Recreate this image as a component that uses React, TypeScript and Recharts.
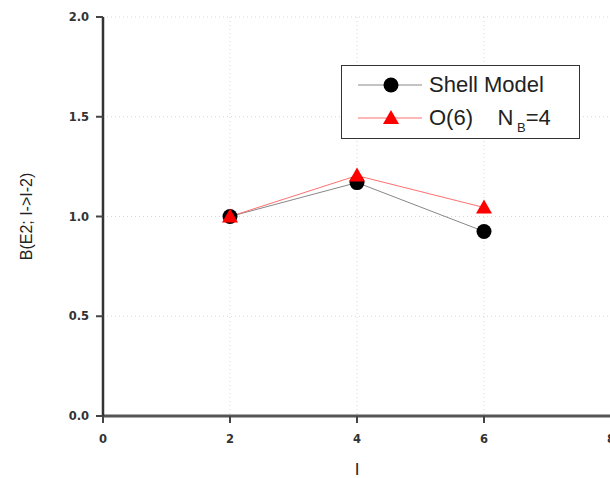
import { LineChart, Line, XAxis, YAxis, CartesianGrid } from 'recharts';

// spin values I of the yrast states
const levels = [2, 4, 6];
// normalised B(E2; I -> I-2)
const shellModel = [1.0, 1.17, 0.925];
const o6Model = [1.0, 1.205, 1.045];

const xTicks = [0, 2, 4, 6, 8];
const yTicks = [0, 0.5, 1.0, 1.5, 2.0];

const chartData = levels.map((l, i) => ({
    I: l,
    shell: shellModel[i],
    o6: o6Model[i]
}));

const tickFont = { fontSize: 11.5, fontWeight: 700, fill: '#333', fontFamily: 'DejaVu Sans' };
const labelFont = 'Liberation Sans, Arial, sans-serif';

const Circle = (props: any) => {
    const { cx, cy } = props;
    if (cx == null || cy == null) return null;
    return <circle cx={cx} cy={cy} r={7.5} fill="#000" />;
};

const Triangle = (props: any) => {
    const { cx, cy } = props;
    if (cx == null || cy == null) return null;
    const s = 8;
    return <polygon points={`${cx},${cy - s} ${cx - s},${cy + s * 0.75} ${cx + s},${cy + s * 0.75}`} fill="#ff0000" />;
};

const LegendBox = () => (
    <div
        style={{
            position: 'absolute',
            left: 341,
            top: 65,
            width: 239,
            height: 74,
            boxSizing: 'border-box',
            border: '1.5px solid #333',
            background: '#fff',
            fontFamily: labelFont,
            fontSize: 22,
            color: '#222'
        }}
    >
        <svg width={239} height={74} style={{ position: 'absolute', left: -1.5, top: -1.5 }}>
            <line x1={17} x2={81} y1={20} y2={20} stroke="#888" strokeWidth={1} />
            <circle cx={50} cy={20} r={7.5} fill="#000" />
            <line x1={17} x2={81} y1={53} y2={53} stroke="#ff7070" strokeWidth={1} />
            <polygon points="50,45 42,59 58,59" fill="#ff0000" />
        </svg>
        <div style={{ position: 'absolute', left: 87, top: 6, lineHeight: '26px' }}>Shell Model</div>
        <div style={{ position: 'absolute', left: 87, top: 39, lineHeight: '26px', whiteSpace: 'pre' }}>
            O(6)    N<sub style={{ fontSize: 13, verticalAlign: -7 }}> B</sub>=4
        </div>
    </div>
);

const YTitle = (props: any) => {
    const vb = props.viewBox;
    const cx = 26;
    const cy = vb.y + vb.height / 2;
    return (
        <text
            x={cx}
            y={cy}
            transform={`rotate(-90, ${cx}, ${cy})`}
            textAnchor="middle"
            dominantBaseline="central"
            fontSize={16}
            fontFamily={labelFont}
            fill="#222"
        >
            B(E2; I-&gt;I-2)
        </text>
    );
};

const XTitle = (props: any) => {
    const vb = props.viewBox;
    return (
        <text
            x={vb.x + vb.width / 2}
            y={vb.y + vb.height - 3}
            textAnchor="middle"
            fontSize={17}
            fontFamily={labelFont}
            fill="#222"
        >
            I
        </text>
    );
};

// inward ticks along the top frame
const TopTick = (props: any) => {
    const { x, y } = props;
    return <line x1={x} x2={x} y1={y} y2={y + 7} stroke="#444" strokeWidth={2} />;
};

export default function App() {
    return (
        <div style={{ position: 'absolute', left: 0, top: 0, width: 610, height: 478, overflow: 'hidden', background: '#fff' }}>
            <LineChart width={620} height={478} data={chartData} margin={{ top: 17, right: 9, left: 0, bottom: 0 }}>
                <CartesianGrid stroke="#e2d5bc" strokeDasharray="1 3" />
                <XAxis
                    dataKey="I"
                    type="number"
                    domain={[0, 8]}
                    ticks={xTicks}
                    height={62}
                    tick={tickFont}
                    tickSize={7}
                    tickMargin={12}
                    axisLine={{ stroke: '#555', strokeWidth: 3 }}
                    tickLine={{ stroke: '#444', strokeWidth: 2 }}
                    label={<XTitle />}
                />
                <XAxis
                    xAxisId="top"
                    dataKey="I"
                    type="number"
                    orientation="top"
                    domain={[0, 8]}
                    ticks={xTicks}
                    height={0}
                    tickSize={0}
                    tickMargin={0}
                    tick={TopTick}
                    tickLine={false}
                    axisLine={{ stroke: '#666', strokeWidth: 3 }}
                />
                <YAxis
                    type="number"
                    domain={[0, 2]}
                    ticks={yTicks}
                    width={103}
                    tickFormatter={(v: number) => v.toFixed(1)}
                    tick={tickFont}
                    tickSize={7}
                    tickMargin={7}
                    axisLine={{ stroke: '#333', strokeWidth: 2.5 }}
                    tickLine={{ stroke: '#444', strokeWidth: 2 }}
                    label={<YTitle />}
                />
                <Line
                    dataKey="shell"
                    stroke="#888"
                    strokeWidth={1}
                    dot={<Circle />}
                    activeDot={false}
                    isAnimationActive={false}
                />
                <Line
                    dataKey="o6"
                    stroke="#ff7070"
                    strokeWidth={1}
                    dot={<Triangle />}
                    activeDot={false}
                    isAnimationActive={false}
                />
            </LineChart>
            <LegendBox />
        </div>
    );
}
